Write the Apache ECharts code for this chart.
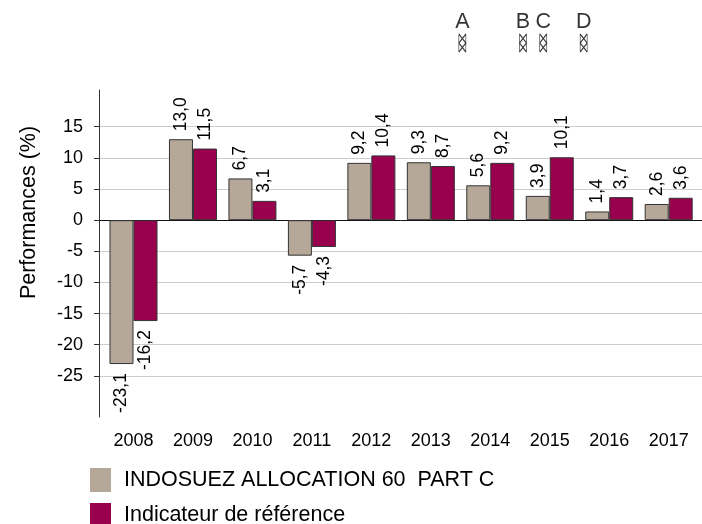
<!DOCTYPE html>
<html>
<head>
<meta charset="utf-8">
<script src="https://cdn.jsdelivr.net/npm/echarts@6/dist/echarts.min.js"></script>
<style>
html, body { margin: 0; padding: 0; background: #fff; }
#chart { width: 702px; height: 524px; }
</style>
</head>
<body>
<div id="chart"></div>
<script>
const years = [2008, 2009, 2010, 2011, 2012, 2013, 2014, 2015, 2016, 2017];
const fundName = 'INDOSUEZ ALLOCATION 60  PART C';
const benchName = 'Indicateur de référence';
const fundValues = [-23.1, 13.0, 6.7, -5.7, 9.2, 9.3, 5.6, 3.9, 1.4, 2.6];
const benchValues = [-16.2, 11.5, 3.1, -4.3, 10.4, 8.7, 9.2, 10.1, 3.7, 3.6];
const yTicks = [-25, -20, -15, -10, -5, 0, 5, 10, 15];
const eventNames = ['A', 'B', 'C', 'D'];
const eventYears = [2013.53, 2014.55, 2014.89, 2015.57];

const font = 'Liberation Sans';
const xMin = 2007.42;
const xMax = 2017.56;
const markerPath = 'path://M0 0L7 9L0 18M7 0L0 9L7 18M0 0V18M7 0V18';

function barData(values) {
  // labels sit outside the bar, so the side depends on the sign
  return values.map((v, i) => ({
    value: [years[i], v],
    label: v < 0
      ? { position: 'bottom', align: 'right', distance: 9 }
      : { position: 'top', align: 'left', distance: 8 }
  }));
}

function barSeries(name, values, color) {
  return {
    name: name,
    type: 'bar',
    xAxisIndex: 0,
    yAxisIndex: 0,
    barWidth: 24,
    barGap: 0,
    data: barData(values),
    itemStyle: { color: color, borderColor: '#333', borderWidth: 1 },
    label: {
      show: true,
      rotate: 90,
      verticalAlign: 'middle',
      color: '#000',
      fontFamily: font,
      fontSize: 17.5,
      formatter: p => p.value[1].toFixed(1).replace('.', ',')
    }
  };
}

var myChart = echarts.init(document.getElementById('chart'));

var option = {
  animation: false,
  backgroundColor: '#fff',
  textStyle: { fontFamily: font },
  grid: [
    { left: 99, top: 90, width: 603, height: 327 },
    { left: 99, top: 34, width: 603, height: 18 }
  ],
  xAxis: [
    {
      type: 'value',
      gridIndex: 0,
      min: xMin,
      max: xMax,
      position: 'bottom',
      splitLine: { show: false },
      axisLine: { show: false, onZero: false },
      axisTick: { show: false },
      axisLabel: {
        margin: 15,
        color: '#000',
        fontFamily: font,
        fontSize: 18,
        customValues: years,
        showMinLabel: true,
        showMaxLabel: true,
        formatter: v => String(v)
      }
    },
    {
      // zero line only
      type: 'value',
      gridIndex: 0,
      min: xMin,
      max: xMax,
      splitLine: { show: false },
      axisLine: { show: true, onZero: true, lineStyle: { color: '#111', width: 1 } },
      axisTick: { show: false },
      axisLabel: { show: false }
    },
    {
      type: 'value',
      gridIndex: 1,
      min: xMin,
      max: xMax,
      show: false
    }
  ],
  yAxis: [
    {
      type: 'value',
      gridIndex: 0,
      min: -31.6,
      max: 20.9,
      name: 'Performances (%)',
      nameLocation: 'middle',
      nameGap: 59,
      // the title sits above the middle of the axis
      nameTextStyle: { color: '#000', fontFamily: font, fontSize: 21.5, padding: [0, 0, 0, 82] },
      axisLine: { show: true, onZero: false, lineStyle: { color: '#333' } },
      axisTick: { show: true, length: 5, customValues: yTicks, lineStyle: { color: '#333' } },
      axisLabel: { margin: 16, color: '#000', fontFamily: font, fontSize: 18, customValues: yTicks },
      splitLine: { show: true, lineStyle: { color: '#ccc', width: 1 } }
    },
    {
      type: 'value',
      gridIndex: 1,
      min: 0,
      max: 1,
      show: false
    }
  ],
  legend: [
    { name: fundName, top: 468 },
    { name: benchName, top: 503 }
  ].map(item => ({
    left: 90,
    top: item.top,
    padding: 0,
    itemWidth: 21,
    itemHeight: 24,
    selectedMode: false,
    icon: 'rect',
    textStyle: { color: '#000', fontFamily: font, fontSize: 21.5, padding: [2, 0, 0, 8] },
    itemStyle: { borderWidth: 0 },
    data: [item.name]
  })),
  series: [
    barSeries(fundName, fundValues, '#b5a899'),
    barSeries(benchName, benchValues, '#99004d'),
    {
      type: 'scatter',
      xAxisIndex: 2,
      yAxisIndex: 1,
      symbol: markerPath,
      symbolSize: [7, 18],
      itemStyle: { color: 'transparent', borderColor: '#000', borderWidth: 1 },
      data: eventNames.map((n, i) => ({ name: n, value: [eventYears[i], 0.5] })),
      label: {
        show: true,
        position: 'top',
        distance: 0,
        color: '#000',
        fontFamily: font,
        fontSize: 21.5,
        formatter: p => p.name
      }
    }
  ]
};

option && myChart.setOption(option);
</script>
</body>
</html>
